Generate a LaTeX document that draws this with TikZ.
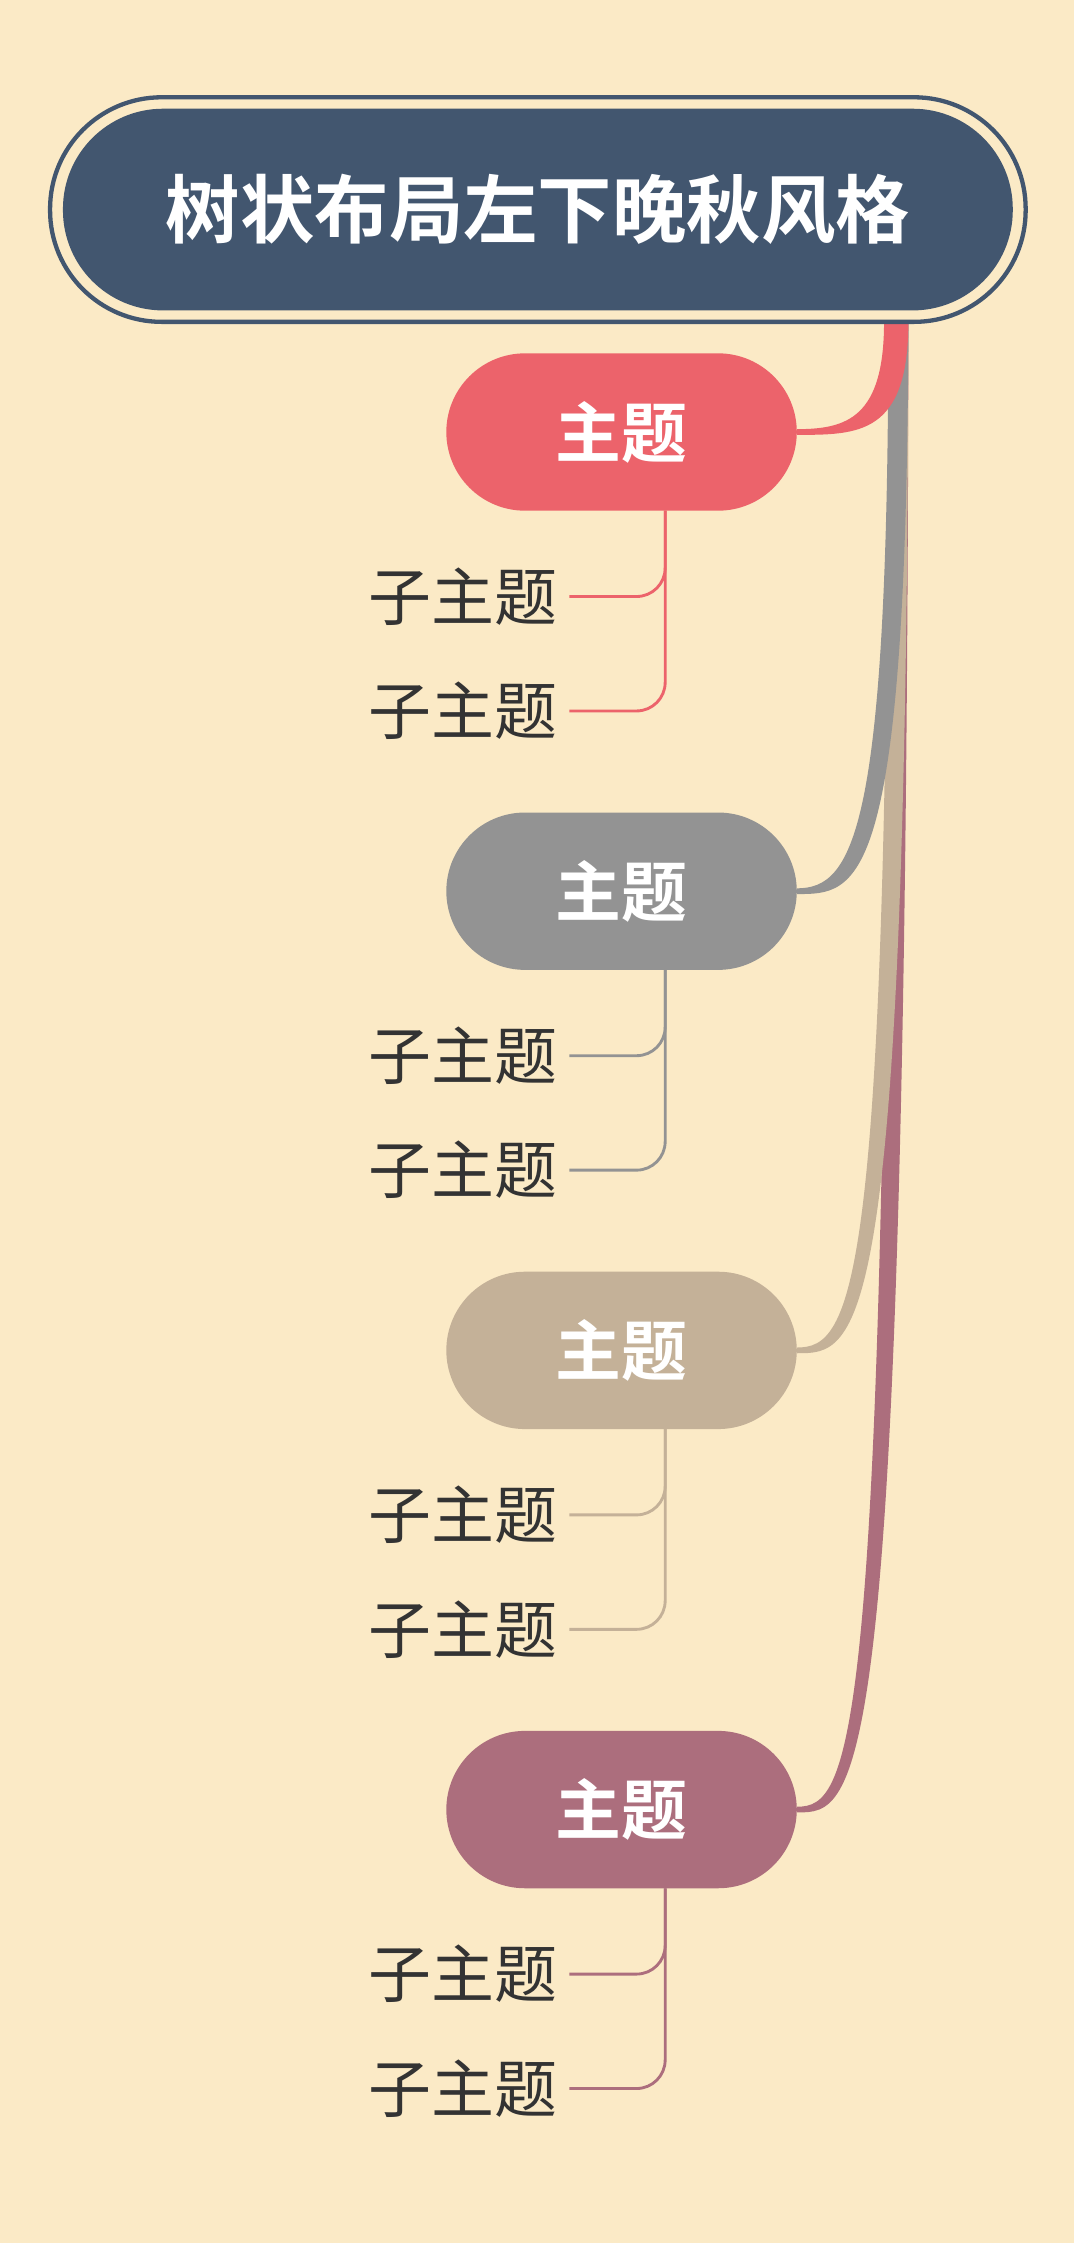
\documentclass[tikz,border=0pt]{standalone}
\usepackage{fontspec}
\newfontfamily\cjk{Noto Sans CJK SC}
\newfontfamily\cjkb{Noto Sans CJK SC Bold}
\definecolor{bg}{HTML}{FBEAC6}
\definecolor{navy}{HTML}{42566F}
\definecolor{cR}{HTML}{EC636B}
\definecolor{cG}{HTML}{939393}
\definecolor{cT}{HTML}{C4B198}
\definecolor{cM}{HTML}{AC6E7D}
\definecolor{txt}{HTML}{333333}
\tikzset{
  mainbox/.style={rounded corners=55pt, minimum width=245pt, minimum height=110pt, inner sep=0pt, text=white, font=\cjkb\fontsize{46}{50}\selectfont},
  subtxt/.style={anchor=east, inner sep=0pt, text=txt, font=\cjk\fontsize{44}{48}\selectfont},
  subline/.style={line width=2pt, rounded corners=20pt}
}
\begin{document}
\begin{tikzpicture}[x=1pt,y=-1pt]
\fill[bg] (0,0) rectangle (751,1568);
\useasboundingbox (0,0) rectangle (751,1568);
% branches (tapered)
\foreach \yc/\c in {1265/cM,944/cT,623/cG}{
  \fill[\c] (635,225) .. controls (634,\yc+2) and (600,\yc+2) .. (557,\yc+2)
     -- (557,\yc-2) .. controls (596,\yc-2) and (621,\yc-40) .. (621,225) -- cycle;
}
\fill[cR] (635,225) .. controls (635,304) and (600,304) .. (557,304)
  -- (557,300) .. controls (592,300) and (618,292) .. (618,225) -- cycle;
% root
\draw[navy, line width=3pt, fill=bg, rounded corners=78pt] (35,68) rectangle (717,225);
\node[fill=navy, rounded corners=70pt, minimum width=664pt, minimum height=141pt, inner sep=0pt, text=white, font=\cjkb\fontsize{52}{56}\selectfont] (root) at (376,146.5) {树状布局左下晚秋风格};
% topics
\foreach \i/\yc/\c in {1/302/cR,2/623/cG,3/944/cT,4/1265/cM}{
  \node[mainbox, fill=\c] (m\i) at (434.5,\yc) {主题};
  \node[subtxt] (s\i a) at (390,\yc+115) {子主题};
  \node[subtxt] (s\i b) at (390,\yc+195) {子主题};
  \draw[subline, \c] (465,\yc+55) |- ([xshift=8pt]s\i a.east);
  \draw[subline, \c] (465,\yc+55) |- ([xshift=8pt]s\i b.east);
}
\end{tikzpicture}
\end{document}
